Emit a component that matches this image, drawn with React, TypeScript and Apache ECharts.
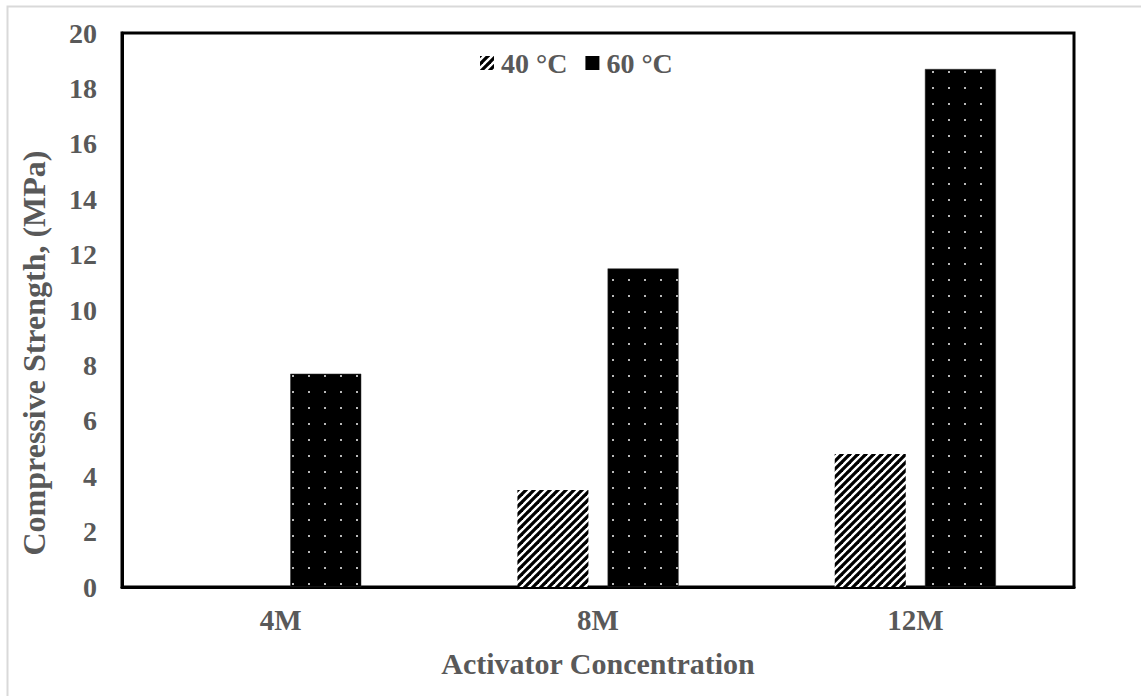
import React, { useEffect, useRef } from "react";
import * as echarts from "echarts";

const categories = ["4M", "8M", "12M"];
const seriesNames = ["40 °C", "60 °C"];
const values40 = [null, 3.5, 4.8];
const values60 = [7.7, 11.5, 18.7];
const yTicks = { min: 0, max: 20, interval: 2 };
const xTitle = "Activator Concentration";
const yTitle = "Compressive Strength, (MPa)";

const FONT = '"Liberation Serif", "Times New Roman", serif';
const TEXT = "#595959";

function stripeCanvas() {
  const c = document.createElement("canvas");
  c.width = 8;
  c.height = 8;
  const g = c.getContext("2d")!;
  g.fillStyle = "#ffffff";
  g.fillRect(0, 0, 8, 8);
  g.strokeStyle = "#000000";
  g.lineWidth = 3.2;
  g.beginPath();
  for (let k = -8; k <= 16; k += 8) {
    g.moveTo(k - 1, 9);
    g.lineTo(k + 9, -1);
  }
  g.stroke();
  g.fillStyle = "#000000";
  g.fillRect(0, 7, 3, 1);
  return c;
}

function dotCanvas() {
  const c = document.createElement("canvas");
  c.width = 16;
  c.height = 16;
  const g = c.getContext("2d")!;
  g.fillStyle = "#000000";
  g.fillRect(0, 0, 16, 16);
  g.fillStyle = "#b8b8b8";
  g.fillRect(4, 7, 2, 2);
  return c;
}

export default function App() {
  const ref = useRef<HTMLDivElement>(null);
  useEffect(() => {
    if (!ref.current) return;
    const chart = echarts.init(ref.current, undefined, { renderer: "svg" });
    const stripe = { image: stripeCanvas(), repeat: "repeat" } as any;
    const dots = { image: dotCanvas(), repeat: "repeat" } as any;
    chart.setOption({
      animation: false,
      backgroundColor: "#ffffff",
      grid: {
        left: 122,
        top: 33,
        right: 67,
        bottom: 109,
        show: true,
        borderColor: "#000000",
        borderWidth: 3,
        containLabel: false,
      },
      legend: {
        left: 480,
        top: 49,
        padding: 0,
        itemWidth: 14,
        itemHeight: 14,
        itemGap: 18,
        icon: "rect",
        data: [
          { name: seriesNames[0] },
          { name: seriesNames[1], itemStyle: { color: "#000000", borderWidth: 0 } },
        ],
        textStyle: {
          fontFamily: FONT,
          fontWeight: "bold",
          fontSize: 28,
          color: TEXT,
          padding: [0, 0, 0, 2],
        },
      },
      xAxis: {
        type: "category",
        data: categories,
        axisLine: { show: true, lineStyle: { color: "#000", width: 3 } },
        axisTick: { show: false },
        axisLabel: {
          margin: 18,
          fontFamily: FONT,
          fontWeight: "bold",
          fontSize: 29,
          color: TEXT,
        },
      },
      yAxis: {
        type: "value",
        min: yTicks.min,
        max: yTicks.max,
        interval: yTicks.interval,
        splitLine: { show: false },
        axisLine: { show: true, lineStyle: { color: "#000", width: 3 } },
        axisTick: { show: false },
        axisLabel: {
          margin: 25,
          fontFamily: FONT,
          fontWeight: "bold",
          fontSize: 28,
          color: TEXT,
        },
      },
      series: [
        {
          name: seriesNames[0],
          type: "bar",
          data: values40,
          barWidth: 71,
          barGap: "27%",
          itemStyle: { color: stripe },
        },
        {
          name: seriesNames[1],
          type: "bar",
          data: values60,
          barWidth: 71,
          barGap: "27%",
          itemStyle: { color: dots, borderColor: "#333", borderWidth: 0.5 },
        },
      ],
      graphic: [
        {
          type: "rect",
          silent: true,
          shape: { x: 7.5, y: 6.5, width: 1300, height: 900 },
          style: { fill: "none", stroke: "#d9d9d9", lineWidth: 2 },
          z: -10,
        },
        {
          type: "text",
          x: 598,
          y: 663,
          style: {
            text: xTitle,
            fontFamily: FONT,
            fontWeight: "bold",
            fontSize: 30,
            fill: TEXT,
            align: "center",
            verticalAlign: "middle",
          },
        },
        {
          type: "text",
          x: 34,
          y: 353,
          rotation: Math.PI / 2,
          style: {
            text: yTitle,
            fontFamily: FONT,
            fontWeight: "bold",
            fontSize: 32,
            fill: TEXT,
            align: "center",
            verticalAlign: "middle",
          },
        },
      ],
    });
    return () => chart.dispose();
  }, []);
  return (
    <div
      ref={ref}
      style={{ position: "absolute", left: 0, top: 0, width: 1141, height: 696 }}
    />
  );
}
